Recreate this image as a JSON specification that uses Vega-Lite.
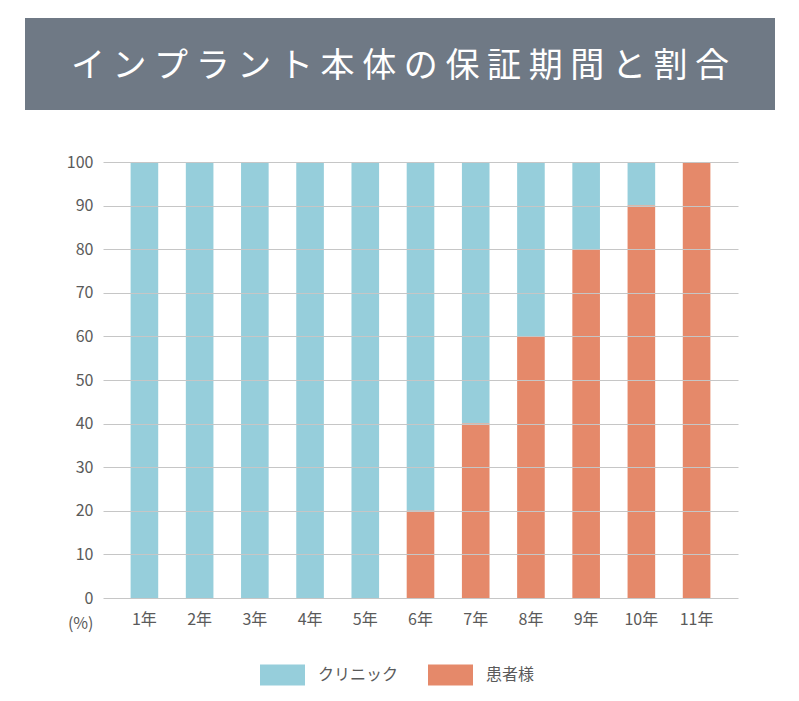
{
  "$schema": "https://vega.github.io/schema/vega-lite/v6.json",
  "background": "white",
  "padding": {"left": 25, "top": 18, "right": 24, "bottom": 0},
  "spacing": 52,
  "bounds": "flush",
  "config": {
    "view": {"stroke": null},
    "font": "Noto Sans CJK JP"
  },
  "datasets": {
    "title": [{"t": "イ ン プ ラ ン ト 本 体 の 保 証 期 間 と 割 合"}],
    "empty": [],
    "bars": [
      {"year": "1年", "type": "クリニック", "value": 100},
      {"year": "1年", "type": "患者様", "value": 0},
      {"year": "2年", "type": "クリニック", "value": 100},
      {"year": "2年", "type": "患者様", "value": 0},
      {"year": "3年", "type": "クリニック", "value": 100},
      {"year": "3年", "type": "患者様", "value": 0},
      {"year": "4年", "type": "クリニック", "value": 100},
      {"year": "4年", "type": "患者様", "value": 0},
      {"year": "5年", "type": "クリニック", "value": 100},
      {"year": "5年", "type": "患者様", "value": 0},
      {"year": "6年", "type": "クリニック", "value": 80},
      {"year": "6年", "type": "患者様", "value": 20},
      {"year": "7年", "type": "クリニック", "value": 60},
      {"year": "7年", "type": "患者様", "value": 40},
      {"year": "8年", "type": "クリニック", "value": 40},
      {"year": "8年", "type": "患者様", "value": 60},
      {"year": "9年", "type": "クリニック", "value": 20},
      {"year": "9年", "type": "患者様", "value": 80},
      {"year": "10年", "type": "クリニック", "value": 10},
      {"year": "10年", "type": "患者様", "value": 90},
      {"year": "11年", "type": "クリニック", "value": 0},
      {"year": "11年", "type": "患者様", "value": 100}
    ]
  },
  "vconcat": [
    {
      "width": 750,
      "height": 92,
      "view": {"fill": "#6f7985", "stroke": null},
      "data": {"name": "title"},
      "mark": {"type": "text", "color": "white", "fontSize": 34, "align": "center", "baseline": "middle", "dy": 3, "font": "Noto Sans CJK JP"},
      "encoding": {"text": {"field": "t"}}
    },
    {
      "bounds": "flush",
      "spacing": 77,
      "hconcat": [
        {
          "width": 1,
          "height": 436,
          "data": {"name": "empty"},
          "mark": {"type": "point"}
        },
        {
          "width": 635,
          "height": 436,
          "data": {"name": "bars"},
          "mark": {"type": "bar"},
          "encoding": {
            "x": {
              "field": "year", "type": "nominal",
              "sort": ["1年","2年","3年","4年","5年","6年","7年","8年","9年","10年","11年"],
              "scale": {"paddingInner": 0.5, "paddingOuter": 0.5},
              "axis": {"title": null, "labelAngle": 0, "domain": false, "ticks": false, "labelPadding": 13, "labelFontSize": 16, "labelColor": "#5a5a5a", "labelFont": "Noto Sans CJK JP"}
            },
            "y": {
              "field": "value", "type": "quantitative", "stack": "zero",
              "scale": {"domain": [0, 100], "nice": false},
              "axis": {
                "values": [0,10,20,30,40,50,60,70,80,90,100],
                "domain": false, "ticks": false, "labelPadding": 10,
                "labelFontSize": 16, "labelColor": "#5a5a5a", "labelFont": "Noto Sans CJK JP",
                "grid": true, "gridColor": "#c6c6c6", "gridWidth": 1, "zindex": 1,
                "title": "(%)", "titleAngle": 0, "titleX": -10, "titleY": 461,
                "titleAlign": "right", "titleBaseline": "middle",
                "titleFontWeight": "normal", "titleFontSize": 16, "titleColor": "#5a5a5a", "titleFont": "Noto Sans CJK JP"
              }
            },
            "color": {
              "field": "type", "type": "nominal",
              "scale": {"domain": ["クリニック", "患者様"], "range": ["#96cedb", "#e5896a"]},
              "legend": {
                "title": null, "orient": "none", "direction": "horizontal",
                "legendX": 235, "legendY": 634, "padding": 0,
                "symbolType": "M-1,-0.467H1V0.467H-1Z", "symbolSize": 2025, "symbolStrokeWidth": 0, "symbolOpacity": 1,
                "labelFontSize": 16, "labelColor": "#5a5a5a", "labelFont": "Noto Sans CJK JP",
                "labelOffset": 13, "columnPadding": 29
              }
            },
            "order": {"field": "type", "sort": "descending"}
          }
        }
      ]
    }
  ]
}
